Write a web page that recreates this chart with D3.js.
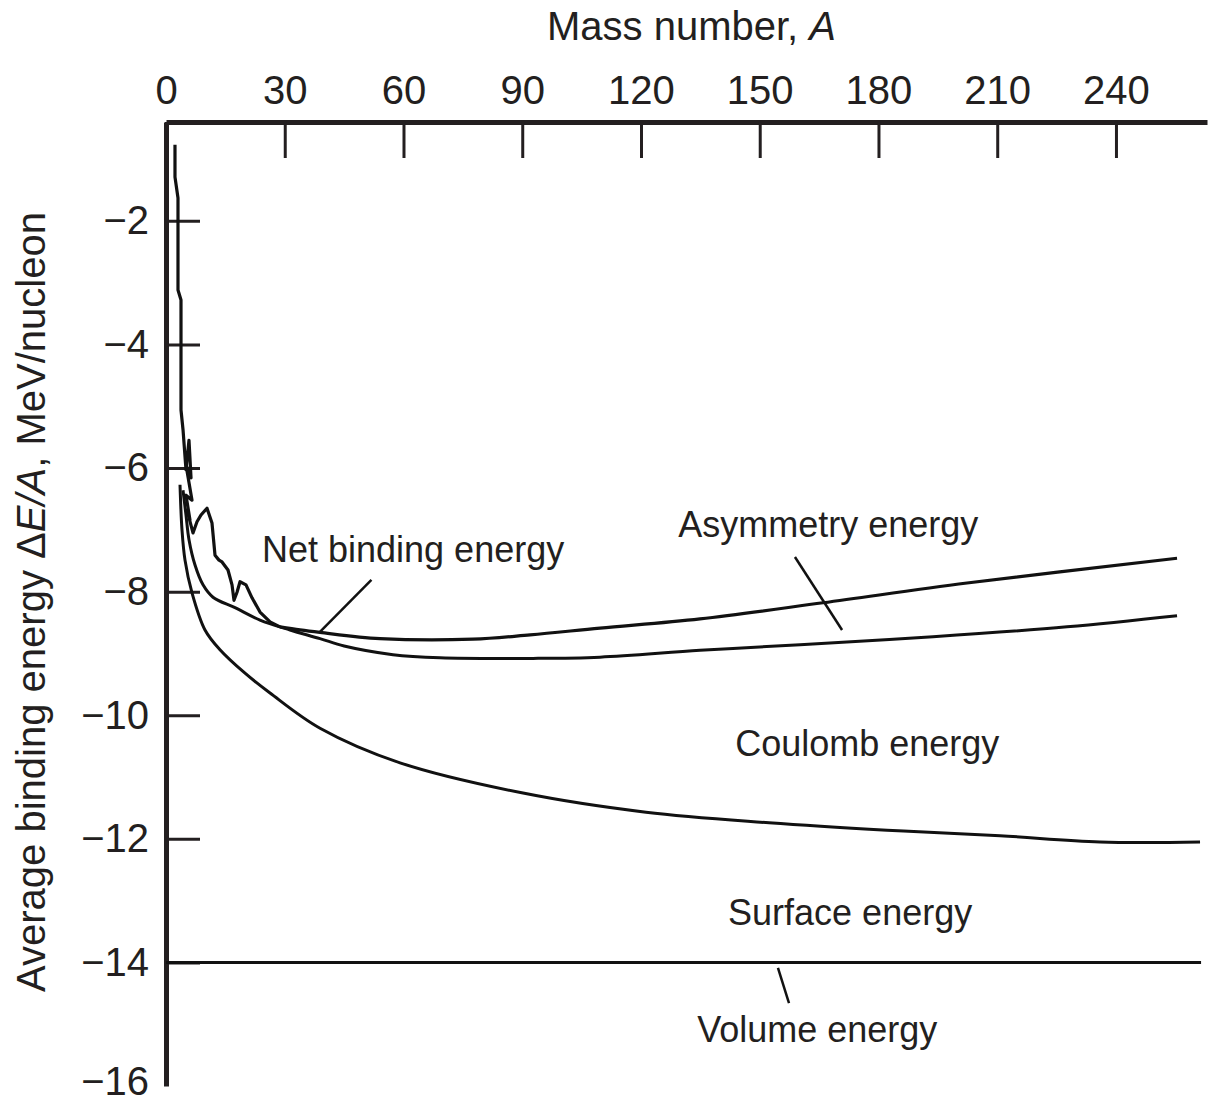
<!DOCTYPE html>
<html>
<head>
<meta charset="utf-8">
<script src="https://cdn.jsdelivr.net/npm/d3@7"></script>
<style>
  body { margin: 0; background: #fff; }
  text { font-family: "Liberation Sans", Arial, sans-serif; fill: #231f20; }
</style>
</head>
<body>
<script>
// curve data (A = mass number, E = MeV/nucleon)
var netA = [2.27, 2.27, 3.03, 3.03, 3.79, 3.79, 4.30, 5.05, 5.81, 6.32, 5.05, 6.57, 5.05, 6.06, 5.31, 6.82,
            7.83, 8.84, 10.36, 11.62, 12.38, 13.39, 14.15, 15.66, 16.68, 17.18, 17.94, 18.70, 20.21, 21.73,
            23.75, 26.28, 28.80, 33.86, 38.91, 54.07, 77.56, 92.0, 109.65, 134.92, 165.99, 202.37, 255.43];
var netE = [-0.77, -1.29, -1.63, -3.12, -3.28, -5.06, -5.38, -6.03, -5.55, -6.16, -5.95, -6.52, -6.44, -6.84, -6.68, -7.05,
            -6.87, -6.76, -6.65, -6.89, -7.41, -7.49, -7.52, -7.65, -7.89, -8.14, -8.01, -7.84, -7.89, -8.10,
            -8.33, -8.49, -8.57, -8.62, -8.66, -8.76, -8.77, -8.70, -8.59, -8.44, -8.18, -7.86, -7.46];

var coulombA = [4.30, 5.05, 5.81, 7.33, 9.35, 11.87, 17.43, 23.75, 31.33, 38.91, 45.0, 57.35, 69.23,
                92.72, 109.65, 134.92, 160.18, 193.78, 227.64, 255.43];
var coulombE = [-6.36, -6.76, -7.16, -7.57, -7.89, -8.09, -8.26, -8.46, -8.62, -8.76, -8.88, -9.02, -9.07,
                -9.08, -9.06, -8.95, -8.86, -8.73, -8.57, -8.39];

var surfaceA = [3.54, 4.04, 4.80, 6.57, 9.85, 13.64, 19.96, 26.28, 38.91, 59.12, 90.20, 121.27,
                152.35, 182.16, 210.71, 235.98, 261.24];
var surfaceE = [-6.27, -7.00, -7.49, -8.02, -8.62, -8.94, -9.32, -9.64, -10.21, -10.77, -11.26, -11.57,
                -11.74, -11.86, -11.95, -12.05, -12.05];

var volumeA = [0, 261.5];
var volumeE = [-14, -14];

var xTicks = [0, 30, 60, 90, 120, 150, 180, 210, 240];
var yTicks = [-2, -4, -6, -8, -10, -12, -14, -16];

var labels = [
  {text: "Net binding energy", a: 24.25, e: -7.52, pa: [51.9, 38.9], pe: [-7.81, -8.65]},
  {text: "Asymmetry energy", a: 129.4, e: -7.12, pa: [158.9, 170.8], pe: [-7.44, -8.62]},
  {text: "Coulomb energy", a: 143.8, e: -10.66},
  {text: "Surface energy", a: 142.0, e: -13.39},
  {text: "Volume energy", a: 134.2, e: -15.29, pa: [154.6, 157.4], pe: [-14.09, -14.66]}
];

var width = 1210, height = 1104;

var x = d3.scaleLinear().domain([0, 263]).range([166, 1207]);
var y = d3.scaleLinear().domain([-16, -0.4]).range([1086, 122]);

var svg = d3.select("body").append("svg")
    .attr("width", width)
    .attr("height", height);

function zip(as, es) {
  return as.map(function(a, i) { return {a: a, e: es[i]}; });
}

// axes, ticks pointing inwards
var xAxis = svg.append("g")
    .attr("transform", "translate(0," + y(-0.4) + ")")
    .call(d3.axisTop(x).tickValues(xTicks).tickSize(-36).tickSizeOuter(0).tickPadding(18));
xAxis.select(".domain").attr("stroke", "#231f20").attr("stroke-width", 5);
xAxis.selectAll(".tick line").attr("stroke", "#231f20").attr("stroke-width", 3);
xAxis.selectAll(".tick text").attr("font-size", 40).attr("font-family", null);

var yAxis = svg.append("g")
    .attr("transform", "translate(" + x(0) + ",0)")
    .call(d3.axisLeft(y).tickValues(yTicks).tickSize(-34).tickSizeOuter(0).tickPadding(17));
yAxis.select(".domain").attr("stroke", "#231f20").attr("stroke-width", 5);
yAxis.selectAll(".tick line").attr("stroke", "#231f20").attr("stroke-width", 3)
    .filter(function(d) { return d === -16; }).remove();
yAxis.selectAll(".tick text").attr("font-size", 40).attr("font-family", null)
    .filter(function(d) { return d === -16; }).attr("dy", "0.2em");

// axis titles
var xt = svg.append("text")
    .attr("x", (x(0) + x(263)) / 2 + 5)
    .attr("y", 40)
    .attr("text-anchor", "middle")
    .attr("font-size", 40);
xt.append("tspan").text("Mass number, ");
xt.append("tspan").attr("font-style", "italic").text("A");

var yt = svg.append("text")
    .attr("transform", "translate(45," + 602 + ") rotate(-90)")
    .attr("text-anchor", "middle")
    .attr("font-size", 40);
yt.append("tspan").text("Average binding energy \u0394");
yt.append("tspan").attr("font-style", "italic").text("E/A");
yt.append("tspan").text(", MeV/nucleon");

// curves
var smooth = d3.line().curve(d3.curveCatmullRom).x(function(d) { return x(d.a); }).y(function(d) { return y(d.e); });
var straight = d3.line().x(function(d) { return x(d.a); }).y(function(d) { return y(d.e); });

var g = svg.append("g").attr("fill", "none").attr("stroke", "#111").attr("stroke-linejoin", "round");

g.append("path").attr("d", straight(zip(volumeA, volumeE))).attr("stroke-width", 3);
g.append("path").attr("d", smooth(zip(surfaceA, surfaceE))).attr("stroke-width", 3);
g.append("path").attr("d", smooth(zip(coulombA, coulombE))).attr("stroke-width", 3);

// net binding: jagged light-nuclei part drawn straight, the rest smooth
var net = zip(netA, netE);
var split = netA.indexOf(28.80);
g.append("path").attr("d", straight(net.slice(0, split + 1))).attr("stroke-width", 3.2);
g.append("path").attr("d", smooth(net.slice(split))).attr("stroke-width", 3.2);

// labels and pointers
labels.forEach(function(l) {
  svg.append("text")
      .attr("x", x(l.a))
      .attr("y", y(l.e))
      .attr("font-size", 36)
      .text(l.text);
  if (l.pa) {
    svg.append("line")
        .attr("x1", x(l.pa[0])).attr("y1", y(l.pe[0]))
        .attr("x2", x(l.pa[1])).attr("y2", y(l.pe[1]))
        .attr("stroke", "#111")
        .attr("stroke-width", 2.5);
  }
});
</script>
</body>
</html>
